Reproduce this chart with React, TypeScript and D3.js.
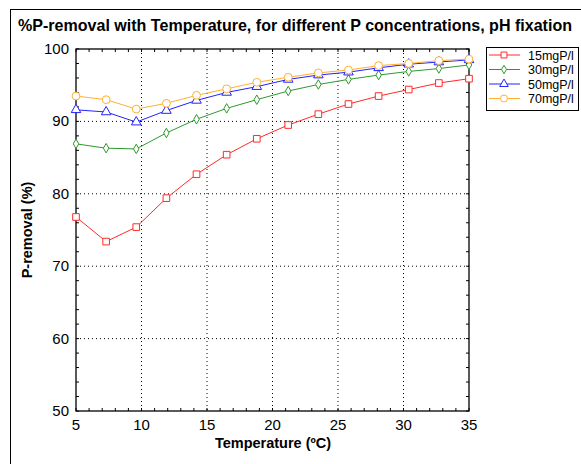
import React from 'react';
import * as d3 from 'd3';

const temps = [5, 7.3, 9.6, 11.9, 14.2, 16.5, 18.8, 21.2, 23.5, 25.8, 28.1, 30.4, 32.7, 35];
const p15 = [76.8, 73.4, 75.4, 79.4, 82.7, 85.4, 87.6, 89.5, 91.0, 92.4, 93.5, 94.4, 95.3, 95.9];
const p30 = [86.9, 86.3, 86.2, 88.4, 90.3, 91.8, 93.0, 94.2, 95.1, 95.8, 96.4, 96.9, 97.3, 97.8];
const p50 = [91.6, 91.3, 89.9, 91.5, 92.9, 94.0, 94.8, 95.8, 96.4, 96.8, 97.4, 97.9, 98.2, 98.5];
const p70 = [93.5, 93.0, 91.7, 92.5, 93.6, 94.5, 95.4, 96.1, 96.7, 97.1, 97.7, 98.0, 98.4, 98.6];
const seriesNames = ['15mgP/l', '30mgP/l', '50mgP/l', '70mgP/l'];
const xTicks = [5, 10, 15, 20, 25, 30, 35];
const yTicks = [50, 60, 70, 80, 90, 100];

const colors = ['#ff2a2a', '#2e9a2e', '#2222ff', '#ffb030'];
const symbols = [d3.symbolSquare, d3.symbolDiamond, d3.symbolTriangle, d3.symbolCircle];
const symSizes = [44, 26, 40, 48];

const font = 'Arial, "Liberation Sans", sans-serif';

export default function App() {
  const W = 581;
  const H = 464;
  const left = 76, right = 469, top = 49, bottom = 411;

  const x = d3.scaleLinear().domain([5, 35]).range([left, right]);
  const y = d3.scaleLinear().domain([50, 100]).range([bottom, top]);

  const all = [p15, p30, p50, p70];
  const line = d3.line<number>().x((_, i) => x(temps[i])).y((d) => y(d));

  const xMinor = d3.range(5, 36, 1);
  const yMinor = d3.range(50, 101, 2);

  return (
    <svg width={W} height={H} style={{ position: 'absolute', left: 0, top: 0, background: '#fff' }}>
      <rect x={10.5} y={9.5} width={W + 20} height={H + 20} fill="#fff" stroke="#000" strokeWidth={1} />
      <text x={18} y={31} fontFamily={font} fontWeight="bold" fontSize={16.2} fill="#000" textLength={554} lengthAdjust="spacingAndGlyphs">
        %P-removal with Temperature, for different P concentrations, pH fixation
      </text>

      {/* grid */}
      {xTicks.slice(1, -1).map((t) => (
        <line key={'gx' + t} x1={x(t)} x2={x(t)} y1={top} y2={bottom} stroke="#000" strokeDasharray="1,3" strokeWidth={1} />
      ))}
      {yTicks.slice(1, -1).map((t) => (
        <line key={'gy' + t} x1={left} x2={right} y1={y(t)} y2={y(t)} stroke="#000" strokeDasharray="1,3" strokeWidth={1} />
      ))}

      {/* minor ticks */}
      {xMinor.map((t) => (
        <g key={'mx' + t}>
          <line x1={x(t)} x2={x(t)} y1={bottom} y2={bottom - 3} stroke="#000" />
          <line x1={x(t)} x2={x(t)} y1={top} y2={top + 3} stroke="#000" />
        </g>
      ))}
      {yMinor.map((t) => (
        <g key={'my' + t}>
          <line x1={left} x2={left + 3} y1={y(t)} y2={y(t)} stroke="#000" />
          <line x1={right} x2={right - 3} y1={y(t)} y2={y(t)} stroke="#000" />
        </g>
      ))}

      <rect x={left} y={top} width={right - left} height={bottom - top} fill="none" stroke="#000" strokeWidth={1.3} />

      {xTicks.map((t) => (
        <text key={'tx' + t} x={x(t)} y={bottom + 19} textAnchor="middle" fontFamily={font} fontSize={15} fill="#000">
          {t}
        </text>
      ))}
      {yTicks.map((t) => (
        <text key={'ty' + t} x={left - 7} y={y(t) + 5} textAnchor="end" fontFamily={font} fontSize={15} fill="#000">
          {t}
        </text>
      ))}

      <text x={273} y={448} textAnchor="middle" fontFamily={font} fontWeight="bold" fontSize={14.5} fill="#000">
        Temperature (ºC)
      </text>
      <text transform={`translate(32,230) rotate(-90)`} textAnchor="middle" fontFamily={font} fontWeight="bold" fontSize={14.5} fill="#000">
        P-removal (%)
      </text>

      {/* series */}
      {all.map((vals, si) => (
        <g key={'s' + si}>
          <path d={line(vals) || ''} fill="none" stroke={colors[si]} strokeWidth={1} />
          {vals.map((v, i) => (
            <path
              key={i}
              d={d3.symbol(symbols[si], symSizes[si])() || ''}
              transform={`translate(${x(temps[i])},${y(v)})`}
              fill="#fff"
              stroke={colors[si]}
              strokeWidth={1}
            />
          ))}
        </g>
      ))}

      {/* legend */}
      <rect x={486.5} y={47.5} width={92} height={63} fill="#fff" stroke="#000" strokeWidth={1} />
      {seriesNames.map((n, i) => {
        const ly = 55 + i * 14.5;
        return (
          <g key={'l' + i}>
            <line x1={489} x2={520} y1={ly} y2={ly} stroke={colors[i]} />
            <path d={d3.symbol(symbols[i], symSizes[i] * 0.8)() || ''} transform={`translate(504,${ly})`} fill="#fff" stroke={colors[i]} />
            <text x={528} y={ly + 4.5} fontFamily={font} fontSize={12.5} fill="#000">
              {n}
            </text>
          </g>
        );
      })}
    </svg>
  );
}
